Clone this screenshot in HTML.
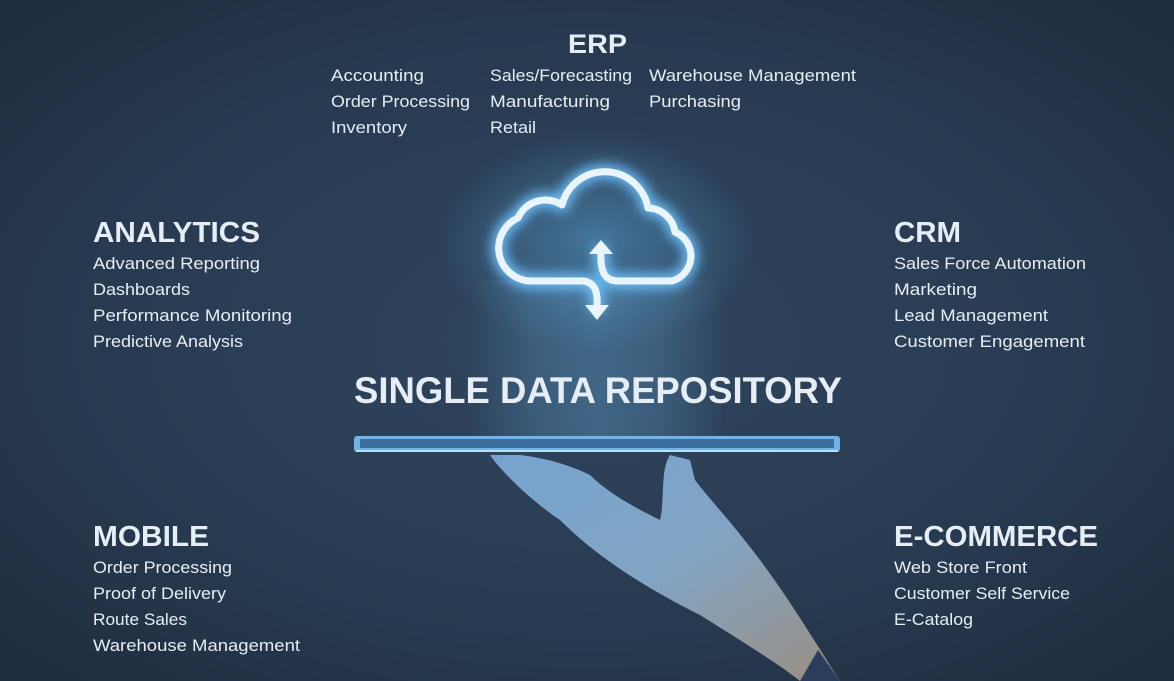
<!DOCTYPE html>
<html><head><meta charset="utf-8"><style>
html,body{margin:0;padding:0;width:1174px;height:681px;overflow:hidden;background:#24354a}
svg{display:block}
text{font-family:"Liberation Sans",sans-serif;fill:#e6edf5}
.h{font-weight:bold;font-size:29px}
.i{font-size:17px}
</style></head><body>
<svg width="1174" height="681" viewBox="0 0 1174 681">
<defs>
<radialGradient id="bg" cx="0.5" cy="0.5" r="0.75">
<stop offset="0" stop-color="#304760"/><stop offset="0.6" stop-color="#27394f"/><stop offset="1" stop-color="#1c2a3b"/>
</radialGradient>
<radialGradient id="glow" cx="0.5" cy="0.5" r="0.5">
<stop offset="0" stop-color="#5fb4ea" stop-opacity="0.45"/><stop offset="1" stop-color="#5fb4ea" stop-opacity="0"/>
</radialGradient>
<linearGradient id="beam" x1="0" y1="0" x2="1" y2="0">
<stop offset="0" stop-color="#6fbdf0" stop-opacity="0"/><stop offset="0.25" stop-color="#6fbdf0" stop-opacity="0.2"/><stop offset="0.5" stop-color="#6fbdf0" stop-opacity="0.28"/><stop offset="0.75" stop-color="#6fbdf0" stop-opacity="0.2"/><stop offset="1" stop-color="#6fbdf0" stop-opacity="0"/>
</linearGradient>
<linearGradient id="hand" x1="0" y1="0" x2="1" y2="1">
<stop offset="0" stop-color="#7eaedc"/><stop offset="0.5" stop-color="#8cb0d0"/><stop offset="1" stop-color="#a89888"/>
</linearGradient>
<filter id="bl" x="-50%" y="-50%" width="200%" height="200%"><feGaussianBlur stdDeviation="6"/></filter>
</defs>
<rect width="1174" height="681" fill="url(#bg)"/>
<ellipse cx="597" cy="240" rx="160" ry="110" fill="url(#glow)"/>
<rect x="470" y="280" width="255" height="158" fill="url(#beam)"/>
<!-- hand -->
<path d="M490,455 C500,470 530,500 560,520 C600,560 650,590 700,615 C740,640 780,665 800,681 L840,681 C820,650 790,600 760,560 C730,520 710,500 695,480 L690,460 L670,455 C660,470 665,500 660,520 C640,510 610,495 590,475 C570,465 545,458 520,455 Z" fill="url(#hand)" opacity="0.9"/>
<path d="M800,681 L818,650 L840,681 Z" fill="#2a3e5c"/>
<!-- tablet -->
<rect x="354" y="436" width="486" height="16" rx="3" fill="#6fb3ea"/>
<rect x="360" y="439" width="474" height="9" fill="#3d6f9d"/>
<line x1="356" y1="451" x2="838" y2="451" stroke="#d8ecff" stroke-width="1.5"/>
<!-- cloud -->
<g fill="none" stroke-linecap="round" stroke-linejoin="round">
<path d="M584,281 H530 A33,33 0 0 1 518,218 A30,30 0 0 1 562,205 A44,44 0 0 1 648,208 A28,28 0 0 1 675,232 A26,26 0 0 1 672,281 H618 C605,281 600,272 601,252 M584,281 C595,283 598,292 597,306" stroke="#6ec3ff" stroke-width="14" filter="url(#bl)"/>
<path d="M584,281 H530 A33,33 0 0 1 518,218 A30,30 0 0 1 562,205 A44,44 0 0 1 648,208 A28,28 0 0 1 675,232 A26,26 0 0 1 672,281 H618 C605,281 600,272 601,252 M584,281 C595,283 598,292 597,306" stroke="#eaf4fc" stroke-width="7"/>
</g>
<path d="M589,254 L601,240 L613,254 Z" fill="#eaf4fc"/>
<path d="M585,305 L597,320 L609,305 Z" fill="#eaf4fc"/>
<!-- text -->
<text class="h" x="568" y="53" textLength="59" lengthAdjust="spacingAndGlyphs" style="font-size:27px">ERP</text>
<text class="i" x="331" y="81" textLength="93" lengthAdjust="spacingAndGlyphs">Accounting</text>
<text class="i" x="331" y="107" textLength="139" lengthAdjust="spacingAndGlyphs">Order Processing</text>
<text class="i" x="331" y="133" textLength="76" lengthAdjust="spacingAndGlyphs">Inventory</text>
<text class="i" x="490" y="81" textLength="142" lengthAdjust="spacingAndGlyphs">Sales/Forecasting</text>
<text class="i" x="490" y="107" textLength="120" lengthAdjust="spacingAndGlyphs">Manufacturing</text>
<text class="i" x="490" y="133" textLength="46" lengthAdjust="spacingAndGlyphs">Retail</text>
<text class="i" x="649" y="81" textLength="207" lengthAdjust="spacingAndGlyphs">Warehouse Management</text>
<text class="i" x="649" y="107" textLength="92" lengthAdjust="spacingAndGlyphs">Purchasing</text>

<text class="h" x="93" y="242" textLength="167" lengthAdjust="spacingAndGlyphs">ANALYTICS</text>
<text class="i" x="93" y="269" textLength="167" lengthAdjust="spacingAndGlyphs">Advanced Reporting</text>
<text class="i" x="93" y="295" textLength="97" lengthAdjust="spacingAndGlyphs">Dashboards</text>
<text class="i" x="93" y="321" textLength="199" lengthAdjust="spacingAndGlyphs">Performance Monitoring</text>
<text class="i" x="93" y="347" textLength="150" lengthAdjust="spacingAndGlyphs">Predictive Analysis</text>

<text class="h" x="894" y="242" textLength="67" lengthAdjust="spacingAndGlyphs">CRM</text>
<text class="i" x="894" y="269" textLength="192" lengthAdjust="spacingAndGlyphs">Sales Force Automation</text>
<text class="i" x="894" y="295" textLength="83" lengthAdjust="spacingAndGlyphs">Marketing</text>
<text class="i" x="894" y="321" textLength="154" lengthAdjust="spacingAndGlyphs">Lead Management</text>
<text class="i" x="894" y="347" textLength="191" lengthAdjust="spacingAndGlyphs">Customer Engagement</text>

<text class="h" x="93" y="546" textLength="116" lengthAdjust="spacingAndGlyphs">MOBILE</text>
<text class="i" x="93" y="573" textLength="139" lengthAdjust="spacingAndGlyphs">Order Processing</text>
<text class="i" x="93" y="599" textLength="133" lengthAdjust="spacingAndGlyphs">Proof of Delivery</text>
<text class="i" x="93" y="625" textLength="94" lengthAdjust="spacingAndGlyphs">Route Sales</text>
<text class="i" x="93" y="651" textLength="207" lengthAdjust="spacingAndGlyphs">Warehouse Management</text>

<text class="h" x="894" y="546" textLength="204" lengthAdjust="spacingAndGlyphs">E-COMMERCE</text>
<text class="i" x="894" y="573" textLength="133" lengthAdjust="spacingAndGlyphs">Web Store Front</text>
<text class="i" x="894" y="599" textLength="176" lengthAdjust="spacingAndGlyphs">Customer Self Service</text>
<text class="i" x="894" y="625" textLength="79" lengthAdjust="spacingAndGlyphs">E-Catalog</text>

<text class="h" x="354" y="403" textLength="488" lengthAdjust="spacingAndGlyphs" style="font-size:37px">SINGLE DATA REPOSITORY</text>
</svg>
</body></html>
